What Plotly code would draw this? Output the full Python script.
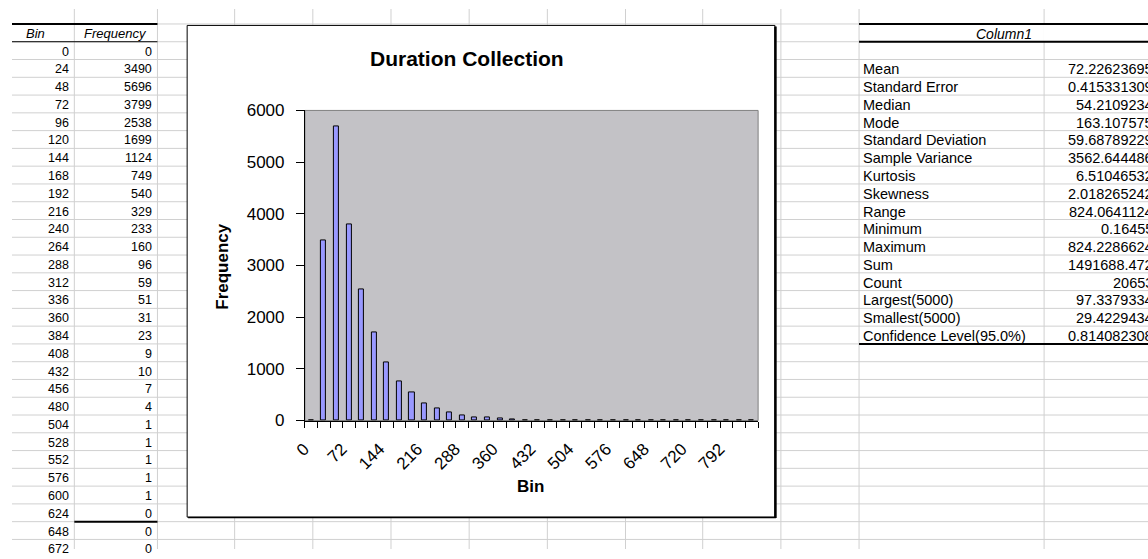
import plotly.graph_objects as go

W, H = 1148, 559

# ---------------- data ----------------
bins = [0, 24, 48, 72, 96, 120, 144, 168, 192, 216, 240, 264, 288, 312, 336, 360,
        384, 408, 432, 456, 480, 504, 528, 552, 576, 600, 624, 648, 672, 696, 720,
        744, 768, 792, 816, 840]
freq = [0, 3490, 5696, 3799, 2538, 1699, 1124, 749, 540, 329, 233, 160, 96, 59, 51, 31,
        23, 9, 10, 7, 4, 1, 1, 1, 1, 1, 0, 0, 0, 0, 0,
        0, 0, 0, 0, 1]
x_tick_labels = [str(b) for b in bins[::3]]

stat_labels = ["Mean", "Standard Error", "Median", "Mode", "Standard Deviation",
               "Sample Variance", "Kurtosis", "Skewness", "Range", "Minimum", "Maximum",
               "Sum", "Count", "Largest(5000)", "Smallest(5000)", "Confidence Level(95.0%)"]
stat_values = ["72.22623695", "0.415331309", "54.2109234", "163.107575", "59.68789229",
               "3562.644486", "6.51046532", "2.018265242", "824.0641124", "0.16455",
               "824.2286624", "1491688.472", "20653", "97.3379334", "29.4229434",
               "0.814082308"]

FONT = "Liberation Sans"


def X(px):
    return px / W


def Y(py):
    return 1 - py / H


# spreadsheet geometry
ROW_TOP = 15.5
ROW_H = 18.4
COL_LINES = [63, 147, 225, 304, 383, 462, 541, 620, 698, 777, 856, 1043]
GRID = "#D0D0D0"

shapes = []
annotations = []

# grid lines
k = 0
while ROW_TOP + k * ROW_H < H + 1:
    yy = ROW_TOP + k * ROW_H
    shapes.append(dict(type="line", xref="paper", yref="paper", x0=0, x1=1,
                       y0=Y(yy), y1=Y(yy), line=dict(color=GRID, width=1), layer="below"))
    k += 1
for cx in COL_LINES:
    shapes.append(dict(type="line", xref="paper", yref="paper", x0=X(cx), x1=X(cx),
                       y0=0, y1=1, line=dict(color=GRID, width=1), layer="below"))

# merged look of the "Column1" header cell
shapes.append(dict(type="rect", xref="paper", yref="paper", x0=X(1042), x1=X(1044),
                   y0=Y(ROW_TOP + ROW_H - 0.5), y1=Y(ROW_TOP + 0.5),
                   fillcolor="white", line=dict(width=0), layer="below"))


def hline(x0, x1, yy, w, color="black"):
    shapes.append(dict(type="line", xref="paper", yref="paper", x0=X(x0), x1=X(x1),
                       y0=Y(yy), y1=Y(yy), line=dict(color=color, width=w), layer="below"))


# table borders
hline(0, 147, ROW_TOP, 2)
hline(0, 147, ROW_TOP + ROW_H, 1)
hline(63, 147, ROW_TOP + 28 * ROW_H, 2)
hline(856, W, ROW_TOP, 2)
hline(856, W, ROW_TOP + ROW_H, 2)
hline(856, W, ROW_TOP + 18 * ROW_H, 2)

# chart object: white area + frame
CX0, CX1, CY0, CY1 = 177, 771, 17, 526
shapes.append(dict(type="rect", xref="paper", yref="paper", x0=X(CX0), x1=X(CX1),
                   y0=Y(CY1), y1=Y(CY0), fillcolor="white",
                   line=dict(color="black", width=1), layer="below"))
shapes.append(dict(type="line", xref="paper", yref="paper", x0=X(CX1 + 0.5), x1=X(CX1 + 0.5),
                   y0=Y(CY1 + 1), y1=Y(CY0 + 1), line=dict(color="black", width=2.5)))
shapes.append(dict(type="line", xref="paper", yref="paper", x0=X(CX0 + 1), x1=X(CX1 + 1),
                   y0=Y(CY1 + 0.5), y1=Y(CY1 + 0.5), line=dict(color="black", width=1.5)))

# plot area: grey fill with grey border (axis lines drawn on top in black)
shapes.append(dict(type="rect", xref="x domain", yref="y domain", x0=0, x1=1, y0=0, y1=1,
                   fillcolor="#C3C2C6", line=dict(color="#808080", width=1), layer="below"))


# ---------------- table text ----------------
def cell(text, xpx, yc, anchor, size, italic=False, color="black"):
    annotations.append(dict(text=text, xref="paper", yref="paper", x=X(xpx), y=Y(yc),
                            xanchor=anchor, yanchor="middle", showarrow=False,
                            font=dict(family=FONT, size=size, color=color,
                                      style="italic" if italic else "normal")))


hdr_c = ROW_TOP + 0.5 * ROW_H + 1
cell("Bin", 23.5, hdr_c, "center", 13, italic=True)
cell("Frequency", 105, hdr_c, "center", 13, italic=True)
for i, (b, f) in enumerate(zip(bins, freq)):
    top = ROW_TOP + (i + 1) * ROW_H
    if top > H:
        break
    yc = top + 0.5 * ROW_H + 1
    cell(str(b), 60, yc, "right", 12.5)
    cell(str(f), 144, yc, "right", 12.5)

cell("Column1", 1002, hdr_c, "center", 14, italic=True)
for i, (lab, val) in enumerate(zip(stat_labels, stat_values)):
    yc = ROW_TOP + (i + 2.5) * ROW_H + 1
    cell(lab, 858, yc, "left", 14.5)
    cell(val, 1155, yc, "right", 14.5)

# ---------------- chart texts ----------------
annotations.append(dict(text="<b>Duration Collection</b>", xref="paper", yref="paper",
                        x=X(460), y=Y(51), xanchor="center", yanchor="middle", showarrow=False,
                        font=dict(family=FONT, size=21, color="black")))
annotations.append(dict(text="<b>Frequency</b>", xref="paper", yref="paper",
                        x=X(213), y=Y(266), xanchor="center", yanchor="middle", showarrow=False,
                        textangle=-90, font=dict(family=FONT, size=17, color="black")))
annotations.append(dict(text="<b>Bin</b>", xref="paper", yref="paper",
                        x=X(524), y=Y(494), xanchor="center", yanchor="middle", showarrow=False,
                        font=dict(family=FONT, size=17, color="black")))

# ---------------- figure ----------------
fig = go.Figure()
fig.add_trace(go.Bar(x=bins, y=freq, width=24 * 0.4,
                     marker=dict(color="#9999FF", line=dict(color="black", width=1)),
                     hoverinfo="skip", showlegend=False))

xr = [bins[0] - 12, bins[-1] + 12]
fig.update_layout(
    width=W, height=H, margin=dict(l=0, r=0, t=0, b=0),
    paper_bgcolor="white", plot_bgcolor="#C3C2C6",
    showlegend=False, bargap=0,
    shapes=shapes, annotations=annotations,
    xaxis=dict(domain=[X(296), X(754)], range=xr, tickmode="array",
               tickvals=bins[::3], ticktext=x_tick_labels, tickangle=-45,
               ticks="", showline=True, linecolor="black", linewidth=1,
               showgrid=False, zeroline=False, fixedrange=True,
               ticklabelstandoff=11, ticklabelshift=-7,
               tickfont=dict(family=FONT, size=17, color="black"),
               minor=dict(tick0=-12, dtick=24, ticks="outside", ticklen=6,
                          tickcolor="black", tickwidth=1, showgrid=False)),
    xaxis2=dict(overlaying="x", anchor="y", range=xr, showticklabels=False,
                ticks="", showline=False, showgrid=False, zeroline=False, fixedrange=True,
                minor=dict(tick0=-12, dtick=24, ticks="inside", ticklen=4,
                           tickcolor="black", tickwidth=1, showgrid=False)),
    yaxis=dict(domain=[Y(426), Y(105)], range=[0, 6000], dtick=1000,
               ticks="outside", ticklen=8, tickcolor="black", tickwidth=1,
               showline=True, linecolor="black", linewidth=1, showgrid=False,
               zeroline=False, fixedrange=True, ticklabelstandoff=8,
               tickfont=dict(family=FONT, size=17, color="black")),
)

fig.write_html("out.html")
